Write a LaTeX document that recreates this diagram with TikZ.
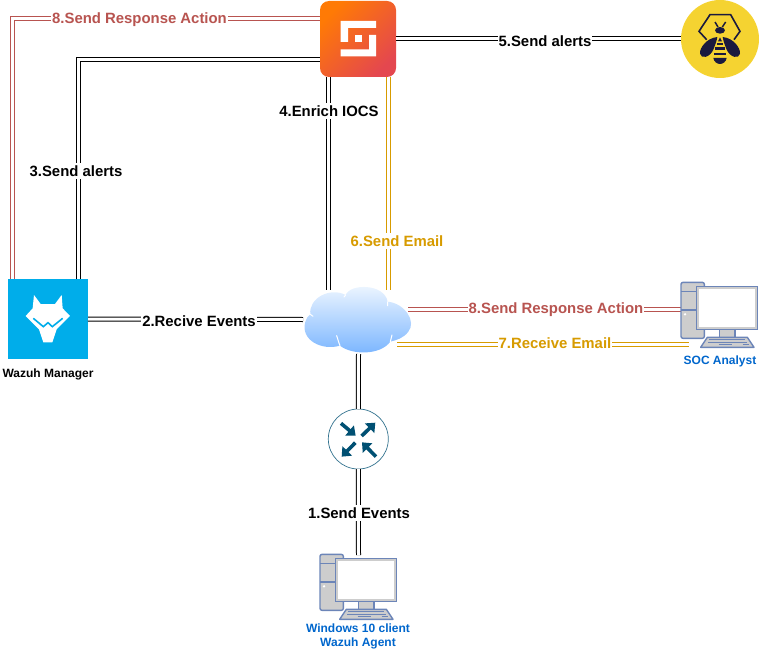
\documentclass[tikz,border=0pt]{standalone}
\usepackage{fontspec}
\setmainfont{Liberation Sans}
\usetikzlibrary{arrows.meta,shapes.geometric}
\definecolor{redc}{HTML}{B85450}
\definecolor{yelc}{HTML}{D79B00}
\definecolor{bluet}{HTML}{0066CC}
\definecolor{wazuhc}{HTML}{00ADEA}
\definecolor{beey}{HTML}{F5D331}
\definecolor{beed}{HTML}{1A1A3E}
\definecolor{pcs}{HTML}{6C85B8}
\definecolor{pcf}{HTML}{CDCDCD}
\definecolor{routerd}{HTML}{005073}
\definecolor{siema}{HTML}{FF7A05}
\definecolor{siemb}{HTML}{E4474F}
\definecolor{clouda}{HTML}{F0F7FF}
\definecolor{cloudb}{HTML}{78B4FF}
\tikzset{
  dbl/.style={double,double distance=3pt,line width=1pt,draw=black},
  dblred/.style={dbl,draw=redc},
  dblyel/.style={dbl,draw=yelc},
  lbl/.style={font=\bfseries\fontsize{14.9}{16}\selectfont,fill=white,inner xsep=1pt,inner ysep=2.5pt,text height=10.7pt,text depth=0pt,text=black},
  lblred/.style={lbl,text=redc},
  lblyel/.style={lbl,text=yelc},
  captxt/.style={font=\bfseries\fontsize{12}{14}\selectfont,inner sep=0pt,align=center},
  capblue/.style={captxt,text=bluet},
  ghost/.style={inner sep=0pt,outer sep=0pt},
  pcpart/.style={draw=pcs,line width=1.4pt,fill=pcf},
  pc/.pic={
    \draw[pcpart,rounded corners=2pt] (33,37) rectangle (103,205);
    \draw[pcs,line width=1.2pt] (33,65) -- (103,65) (33,120) -- (103,120);
    \fill[white] (45,133) circle (4);
    \draw[pcpart] (148,178) rectangle (195,202);
    \draw[pcpart] (80,50) rectangle (262,178);
    \fill[white] (87,57) rectangle (255,171);
    \draw[pcpart,line join=round] (92,232) -- (112,202) -- (232,202) -- (252,232) -- cycle;
    \draw[pcs,line width=1pt] (118,210) -- (226,210) (114,217) -- (232,217) (146,225) -- (186,225) (218,225) -- (236,225);
  },
}
\begin{document}
\begin{tikzpicture}[x=1pt,y=-1pt]
\useasboundingbox (0,0) rectangle (760,650);
% node bodies
\node[ghost,minimum size=76pt,rounded corners=9pt,left color=siema,right color=siemb,shading angle=45] (siem) at (358,39) {};
\node[ghost,circle,minimum size=78pt,fill=beey] (bee) at (720,39) {};
\node[ghost,minimum size=80pt,fill=wazuhc] (wazuh) at (48,319) {};
\node[ghost,minimum width=106pt,minimum height=65pt] (cloud) at (358,319.5) {};
\node[ghost,circle,minimum size=60pt,draw=routerd!80,line width=0.7pt,fill=white] (router) at (358.3,439) {};
\node[ghost,minimum width=77pt,minimum height=65pt] (soc) at (719.5,314.5) {};
\node[ghost,minimum width=77pt,minimum height=65pt] (win) at (358.5,586.5) {};
% connectors
\draw[dblred] ([xshift=-35.3pt]wazuh.north) |- ([yshift=20pt]siem.west);
\draw[dbl] ([xshift=30.7pt]wazuh.north) |- ([yshift=-20.5pt]siem.west);
\draw[dbl] ([xshift=-30pt]siem.south) -- ([xshift=-30pt,yshift=-3pt]cloud.north);
\draw[dblyel] ([xshift=30.5pt]siem.south) -- ([xshift=30.5pt,yshift=-3pt]cloud.north);
\draw[dbl] (siem.east) -- (bee.west);
\draw[dbl] (wazuh.east) -- ([xshift=-2pt]cloud.west);
\draw[dblred] ([xshift=-3pt,yshift=10.5pt]cloud.east) -- ([xshift=.5pt,yshift=5.5pt]soc.west);
\draw[dblyel] ([xshift=-14pt,yshift=-24.5pt]cloud.east) -- ([xshift=8pt,yshift=-29.5pt]soc.west);
\draw[dbl] ([xshift=.5pt,yshift=-2pt]cloud.south) -- (router.north);
\draw[dbl] (router.south) -- ([yshift=-1pt]win.north);
% orange icon
\fill[white] (340.7,21) -- (376,21) -- (376,28) -- (348,28) -- (348,42) -- (340.7,42) -- cycle;
\fill[white] (376,35) -- (376,56.3) -- (340.7,56.3) -- (340.7,49.3) -- (369,49.3) -- (369,35) -- cycle;
\fill[white] (354.7,35) rectangle (361.7,42);
% bee
\begin{scope}[shift={(690,8)},scale=0.3333]
  \draw[beed,line width=1.6pt,line join=miter] (50,95) -- (27,70) -- (60,20) -- (122,20) -- (150,70) -- (132,95);
  \draw[beed,line width=1.5pt] (75,42) -- (84,57) (107,42) -- (97,57);
  \fill[beed] (90,67) ellipse (15 and 10);
  \fill[beed] (82,87) .. controls (50,90) and (28,120) .. (30,137) .. controls (33,155) and (60,148) .. (70,125) .. controls (75,112) and (80,100) .. (82,87) -- cycle;
  \fill[beed] (98,87) .. controls (130,90) and (152,120) .. (150,137) .. controls (147,155) and (120,148) .. (110,125) .. controls (105,112) and (100,100) .. (98,87) -- cycle;
  \fill[beed] (90,88) -- (96,100) -- (84,100) -- cycle;
  \fill[beed] (80,105) rectangle (100,110);
  \fill[beed] (76,118) rectangle (104,125);
  \fill[beed] (73,134) rectangle (107,141);
  \fill[beed] (70,150) -- (110,150) .. controls (108,162) and (98,168) .. (90,168) .. controls (82,168) and (72,162) .. (70,150) -- cycle;
\end{scope}
% wazuh fox
\begin{scope}[shift={(20,290)},scale=0.3333]
  \fill[white] (42,15) -- (62,42) -- (105,42) -- (125,15) -- (128,55) -- (150,78) -- (110,118) -- (97,157) -- (70,157) -- (57,118) -- (17,78) -- (38,55) -- cycle;
  \draw[wazuhc,line width=1.6pt,line join=miter] (40,85) -- (70,110) -- (84,98) -- (97,110) -- (128,85);
\end{scope}
% cloud
\begin{scope}[shift={(295,275)},scale=0.3333]
  \shade[top color=clouda,bottom color=cloudb] (46,118)
    .. controls (40,70) and (105,35) .. (152,60)
    .. controls (165,25) and (268,25) .. (278,80)
    .. controls (330,85) and (365,140) .. (340,170)
    .. controls (325,190) and (305,195) .. (286,200)
    .. controls (255,242) and (170,240) .. (135,212)
    .. controls (80,228) and (15,195) .. (31,140)
    .. controls (33,130) and (40,122) .. (46,118) -- cycle;
  \draw[white,line width=1pt,line cap=round] (46,118) -- (54,124) (152,60) -- (147,66) (278,80) -- (278,92) (286,200) -- (291,180) (135,212) .. controls (130,200) and (128,190) .. (125,182);
\end{scope}
% router arrows
\begin{scope}[shift={(300,400)},scale=0.3333,routerd,line width=3.6pt,-{Triangle[length=8pt,width=13pt]}]
  \draw (123,70) -- (167,107);
  \draw (185,108) -- (226,68);
  \draw (166,128) -- (125,170);
  \draw (228,170) -- (186,127);
\end{scope}
% computers
\pic[shift={(670,270)},scale=0.3333] {pc};
\pic[shift={(309,542)},scale=0.3333] {pc};
% labels
\node[lblred] (l8a) at (139.5,18) {8.Send Response Action};
\node[lbl] (l3) at (76,171) {3.Send alerts};
\node[lbl] (l4) at (329,111) {4.Enrich IOCS};
\node[lbl] (l5) at (545,41) {5.Send alerts};
\node[lblyel] (l6) at (397,241) {6.Send Email};
\node[lbl] (l2) at (199,321) {2.Recive Events};
\node[lblred] (l8b) at (556,308) {8.Send Response Action};
\node[lblyel] (l7) at (555,343) {7.Receive Email};
\node[lbl] (l1) at (359,513) {1.Send Events};
\node[captxt] (wazuhcap) at (48,374) {Wazuh Manager};
\node[capblue] (soccap) at (720,361.5) {SOC Analyst};
\node[capblue] (wincap) at (358,636) {Windows 10 client\\Wazuh Agent};
\end{tikzpicture}
\end{document}
